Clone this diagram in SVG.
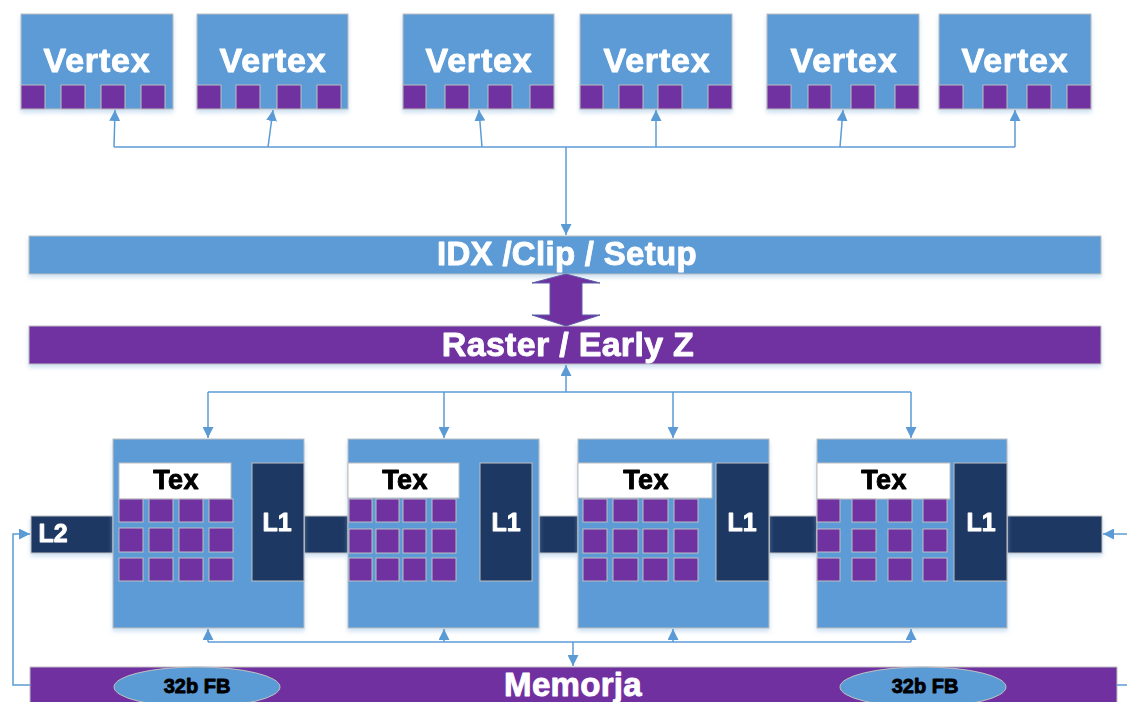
<svg xmlns="http://www.w3.org/2000/svg" width="1127" height="702" viewBox="0 0 1127 702">
<style>
.blue{fill:#5B9BD5;stroke:#BFBFBF;stroke-width:1}
.pur{fill:#7030A0;stroke:#BFBFBF;stroke-width:1}
.navy{fill:#1F3864;stroke:#BFBFBF;stroke-width:1}
.wht{fill:#FFFFFF;stroke:#BFBFBF;stroke-width:1}
.sq{fill:#7030A0;stroke:#BFBFBF;stroke-width:1}
.t{font-family:"Liberation Sans",Arial,sans-serif;font-weight:bold;text-anchor:middle;stroke-width:0.9;stroke-linejoin:round}
.tw{fill:#FFFFFF;stroke:#FFFFFF}
.tb{fill:#000000;stroke:#000000}
.c{fill:none;stroke:#5B9BD5;stroke-width:1.5}
.sh{filter:url(#shadow)}
</style>
<defs>
<filter id="shadow" x="-10%" y="-10%" width="120%" height="130%">
<feDropShadow dx="0" dy="3" stdDeviation="2" flood-color="#9DC3E6" flood-opacity="0.5"/>
</filter>
<marker id="ah" viewBox="0 0 10 10" refX="10" refY="5" markerWidth="11" markerHeight="11" markerUnits="userSpaceOnUse" orient="auto">
<path d="M0,0 L10,5 L0,10 Z" fill="#5B9BD5"/>
</marker>
</defs>

<g id="vertex1" class="sh">
<rect class="blue" x="21" y="14" width="152" height="95"/>
<rect class="sq" x="21" y="85" width="24" height="24"/><rect class="sq" x="61" y="85" width="24" height="24"/><rect class="sq" x="101" y="85" width="24" height="24"/><rect class="sq" x="141" y="85" width="24" height="24"/>
<text class="t tw" x="97" y="72" font-size="34" letter-spacing="0.8">Vertex</text>
</g>
<g id="vertex2" class="sh">
<rect class="blue" x="197" y="14" width="151" height="95"/>
<rect class="sq" x="197" y="85" width="24" height="24"/><rect class="sq" x="236" y="85" width="24" height="24"/><rect class="sq" x="277" y="85" width="24" height="24"/><rect class="sq" x="317" y="85" width="24" height="24"/>
<text class="t tw" x="273" y="72" font-size="34" letter-spacing="0.8">Vertex</text>
</g>
<g id="vertex3" class="sh">
<rect class="blue" x="403" y="14" width="151" height="95"/>
<rect class="sq" x="403" y="85" width="23" height="24"/><rect class="sq" x="445" y="85" width="24" height="24"/><rect class="sq" x="488" y="85" width="24" height="24"/><rect class="sq" x="530" y="85" width="24" height="24"/>
<text class="t tw" x="479" y="72" font-size="34" letter-spacing="0.8">Vertex</text>
</g>
<g id="vertex4" class="sh">
<rect class="blue" x="580" y="14" width="152" height="95"/>
<rect class="sq" x="580" y="85" width="23" height="24"/><rect class="sq" x="619" y="85" width="24" height="24"/><rect class="sq" x="658" y="85" width="24" height="24"/><rect class="sq" x="708" y="85" width="24" height="24"/>
<text class="t tw" x="657" y="72" font-size="34" letter-spacing="0.8">Vertex</text>
</g>
<g id="vertex5" class="sh">
<rect class="blue" x="767" y="14" width="152" height="95"/>
<rect class="sq" x="767" y="85" width="24" height="24"/><rect class="sq" x="808" y="85" width="23" height="24"/><rect class="sq" x="851" y="85" width="24" height="24"/><rect class="sq" x="895" y="85" width="24" height="24"/>
<text class="t tw" x="844" y="72" font-size="34" letter-spacing="0.8">Vertex</text>
</g>
<g id="vertex6" class="sh">
<rect class="blue" x="939" y="14" width="152" height="95"/>
<rect class="sq" x="939" y="85" width="24" height="24"/><rect class="sq" x="983" y="85" width="24" height="24"/><rect class="sq" x="1027" y="85" width="24" height="24"/><rect class="sq" x="1067" y="85" width="24" height="24"/>
<text class="t tw" x="1015" y="72" font-size="34" letter-spacing="0.8">Vertex</text>
</g>

<g id="idx" class="sh">
<rect class="blue" x="29" y="236" width="1072" height="38"/>
<text class="t tw" x="567" y="265" font-size="33" letter-spacing="0.3">IDX /Clip / Setup</text>
</g>
<g id="raster" class="sh">
<rect class="pur" x="29" y="326" width="1072" height="38"/>
<text class="t tw" x="568" y="356" font-size="34" letter-spacing="0.3">Raster / Early Z</text>
</g>
<g id="dblarrow">
<path d="M566,274 L600,283 L582,283 L582,315 L600,315 L566,326 L532,315 L550,315 L550,283 L532,283 Z" fill="#7030A0" stroke="#5B5FA8" stroke-width="1"/>
</g>

<g id="l2bus" class="sh">
<rect class="navy" x="31" y="516" width="82" height="37"/>
<rect class="navy" x="304" y="516" width="44" height="37"/>
<rect class="navy" x="539" y="516" width="39" height="37"/>
<rect class="navy" x="769" y="516" width="48" height="37"/>
<rect class="navy" x="1007" y="516" width="95" height="37"/>
<text class="t tw" x="53" y="542" font-size="25">L2</text>
</g>

<g id="core1" class="sh">
<rect class="blue" x="113" y="439" width="191" height="189"/>
<rect class="wht" x="119" y="463" width="112" height="36"/>
<text class="t tb" x="176" y="489" font-size="27" letter-spacing="0.4">Tex</text>
<rect class="navy" x="252" y="463" width="52" height="118"/>
<text class="t tw" x="277" y="531" font-size="25">L1</text>
<g>
<rect class="sq" x="119" y="499" width="24" height="23"/><rect class="sq" x="149" y="499" width="24" height="23"/><rect class="sq" x="179" y="499" width="24" height="23"/><rect class="sq" x="209" y="499" width="24" height="23"/>
<rect class="sq" x="119" y="528" width="24" height="24"/><rect class="sq" x="149" y="528" width="24" height="24"/><rect class="sq" x="179" y="528" width="24" height="24"/><rect class="sq" x="209" y="528" width="24" height="24"/>
<rect class="sq" x="119" y="558" width="24" height="23"/><rect class="sq" x="149" y="558" width="24" height="23"/><rect class="sq" x="179" y="558" width="24" height="23"/><rect class="sq" x="209" y="558" width="24" height="23"/>
</g>
</g>
<g id="core2" class="sh">
<rect class="blue" x="348" y="439" width="191" height="189"/>
<rect class="wht" x="348" y="463" width="111" height="35"/>
<text class="t tb" x="405" y="489" font-size="27" letter-spacing="0.4">Tex</text>
<rect class="navy" x="480" y="463" width="52" height="118"/>
<text class="t tw" x="506" y="531" font-size="25">L1</text>
<g>
<rect class="sq" x="349" y="499" width="23" height="23"/><rect class="sq" x="376" y="499" width="23" height="23"/><rect class="sq" x="403" y="499" width="23" height="23"/><rect class="sq" x="432" y="499" width="24" height="23"/>
<rect class="sq" x="349" y="529" width="23" height="24"/><rect class="sq" x="376" y="529" width="23" height="24"/><rect class="sq" x="403" y="529" width="23" height="24"/><rect class="sq" x="432" y="529" width="24" height="24"/>
<rect class="sq" x="349" y="558" width="23" height="23"/><rect class="sq" x="376" y="558" width="23" height="23"/><rect class="sq" x="403" y="558" width="23" height="23"/><rect class="sq" x="432" y="558" width="24" height="23"/>
</g>
</g>
<g id="core3" class="sh">
<rect class="blue" x="578" y="439" width="191" height="189"/>
<rect class="wht" x="578" y="463" width="134" height="35"/>
<text class="t tb" x="646" y="489" font-size="27" letter-spacing="0.4">Tex</text>
<rect class="navy" x="716" y="463" width="53" height="118"/>
<text class="t tw" x="742" y="531" font-size="25">L1</text>
<g>
<rect class="sq" x="583" y="499" width="24" height="23"/><rect class="sq" x="613" y="499" width="25" height="23"/><rect class="sq" x="643" y="499" width="25" height="23"/><rect class="sq" x="674" y="499" width="24" height="23"/>
<rect class="sq" x="583" y="529" width="24" height="24"/><rect class="sq" x="613" y="529" width="25" height="24"/><rect class="sq" x="643" y="529" width="25" height="24"/><rect class="sq" x="674" y="529" width="24" height="24"/>
<rect class="sq" x="583" y="558" width="24" height="23"/><rect class="sq" x="613" y="558" width="25" height="23"/><rect class="sq" x="643" y="558" width="25" height="23"/><rect class="sq" x="674" y="558" width="24" height="23"/>
</g>
</g>
<g id="core4" class="sh">
<rect class="blue" x="817" y="439" width="190" height="189"/>
<rect class="wht" x="817" y="463" width="133" height="36"/>
<text class="t tb" x="884" y="489" font-size="27" letter-spacing="0.4">Tex</text>
<rect class="navy" x="954" y="463" width="53" height="118"/>
<text class="t tw" x="981" y="531" font-size="25">L1</text>
<g>
<rect class="sq" x="817" y="499" width="23" height="23"/><rect class="sq" x="852" y="499" width="24" height="23"/><rect class="sq" x="888" y="499" width="24" height="23"/><rect class="sq" x="923" y="499" width="24" height="23"/>
<rect class="sq" x="817" y="529" width="23" height="23"/><rect class="sq" x="852" y="529" width="24" height="23"/><rect class="sq" x="888" y="529" width="24" height="23"/><rect class="sq" x="923" y="529" width="24" height="23"/>
<rect class="sq" x="817" y="558" width="23" height="23"/><rect class="sq" x="852" y="558" width="24" height="23"/><rect class="sq" x="888" y="558" width="24" height="23"/><rect class="sq" x="923" y="558" width="24" height="23"/>
</g>
</g>

<g id="memorja">
<rect class="pur" x="30" y="667" width="1087" height="50"/>
<ellipse class="blue" cx="197" cy="687" rx="83" ry="20"/>
<text class="t tb" x="197" y="693" font-size="20" stroke-width="1.2">32b FB</text>
<ellipse class="blue" cx="923" cy="687" rx="83" ry="20"/>
<text class="t tb" x="925" y="693" font-size="20" stroke-width="1.2">32b FB</text>
<text class="t tw" x="573" y="696" font-size="33" letter-spacing="0.3">Memorja</text>
</g>

<g id="connectors">
<path class="c" d="M114,147 L1015,147"/>
<path class="c" d="M114,147 L115,110" marker-end="url(#ah)"/>
<path class="c" d="M268,147 L273,110" marker-end="url(#ah)"/>
<path class="c" d="M482,147 L479,110" marker-end="url(#ah)"/>
<path class="c" d="M656,147 L656,110" marker-end="url(#ah)"/>
<path class="c" d="M840,147 L843,110" marker-end="url(#ah)"/>
<path class="c" d="M1015,147 L1015,110" marker-end="url(#ah)"/>
<path class="c" d="M566,147 L566,235" marker-end="url(#ah)"/>
<path class="c" d="M566,392 L566,365" marker-end="url(#ah)"/>
<path class="c" d="M208,392 L911,392"/>
<path class="c" d="M208,392 L208,438" marker-end="url(#ah)"/>
<path class="c" d="M444,392 L444,438" marker-end="url(#ah)"/>
<path class="c" d="M673,392 L673,438" marker-end="url(#ah)"/>
<path class="c" d="M911,392 L911,438" marker-end="url(#ah)"/>
<path class="c" d="M208,642 L911,642"/>
<path class="c" d="M208,642 L208,629" marker-end="url(#ah)"/>
<path class="c" d="M444,642 L444,629" marker-end="url(#ah)"/>
<path class="c" d="M673,642 L673,629" marker-end="url(#ah)"/>
<path class="c" d="M911,642 L911,629" marker-end="url(#ah)"/>
<path class="c" d="M573,642 L573,666" marker-end="url(#ah)"/>
<path class="c" d="M30,685 L13,685 L13,534 L30,534" marker-end="url(#ah)"/>
<path class="c" d="M1127,534 L1103,534" marker-end="url(#ah)"/>
<path class="c" d="M1117,685 L1127,685"/>
</g>
</svg>
